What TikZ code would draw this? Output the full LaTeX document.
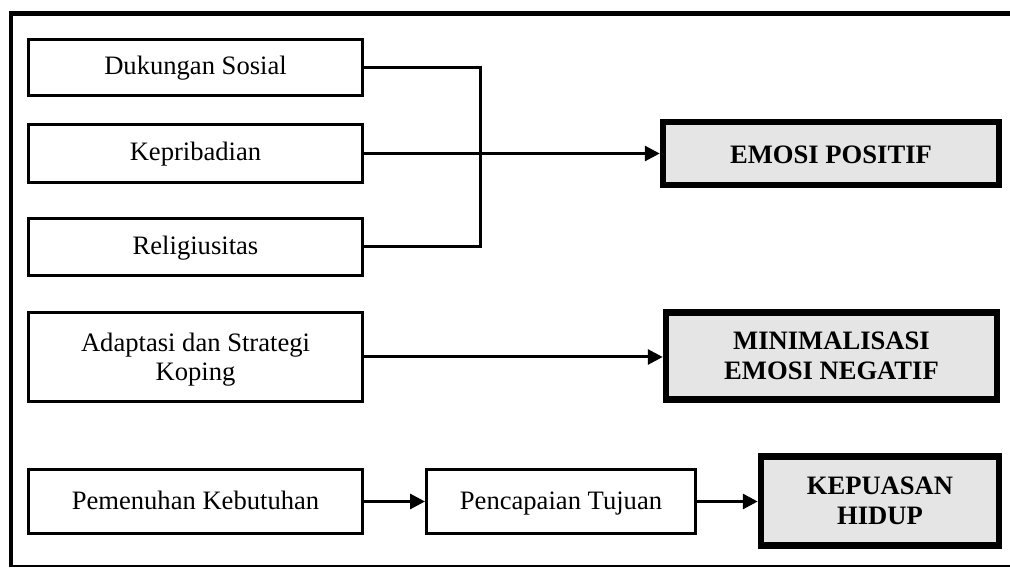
\documentclass[tikz,border=0pt]{standalone}
\usepackage{fontspec}
\setmainfont{Liberation Serif}
\usetikzlibrary{arrows.meta}
\tikzset{
  plainbox/.style={draw=black, line width=3pt, fill=white, inner sep=0pt, align=center,
    font=\fontsize{26.6}{29}\selectfont},
  oneline/.style={text height=20pt, text depth=5pt},
  keybox/.style={draw=black, line width=6.5pt, fill=black!10, inner sep=0pt, align=center,
    font=\fontsize{26.6}{30}\selectfont\bfseries},
  conn/.style={line width=3pt, line join=miter},
  arr/.style={conn, -{Triangle[length=15pt,width=15pt]}}
}
\begin{document}
\begin{tikzpicture}[x=1pt,y=-1pt]
\useasboundingbox (0,0) rectangle (1010,569);
\clip (0,0) rectangle (1010,569);
% outer frame
\draw[line width=5pt] (8.5,14) -- (1015,14);
\draw[line width=4.5pt] (11,12) -- (11,567);
\draw[line width=2.5pt] (9,566) -- (1015,566);
% left boxes
\node[plainbox, oneline, minimum width=334pt, minimum height=56pt] (dk) at (195.5,67.5) {Dukungan Sosial};
\node[plainbox, oneline, minimum width=334pt, minimum height=58pt] (kp) at (195.5,153.5) {Kepribadian};
\node[plainbox, oneline, minimum width=334pt, minimum height=57pt] (rl) at (195.5,247) {Religiusitas};
\node[plainbox, text depth=0pt, minimum width=334pt, minimum height=89pt] (ad) at (195.5,357) {Adaptasi dan Strategi\\Koping};
\node[plainbox, oneline, minimum width=334pt, minimum height=64pt] (pm) at (195.5,501.5) {Pemenuhan Kebutuhan};
\node[plainbox, oneline, minimum width=269pt, minimum height=64pt] (pc) at (561,501.5) {Pencapaian Tujuan};
% key boxes
\node[keybox, text height=21pt, text depth=0pt, minimum width=336pt, minimum height=63pt] (ep) at (831,153.5) {EMOSI POSITIF};
\node[keybox, minimum width=331pt, minimum height=87pt] (mn) at (831.5,356) {MINIMALISASI\\EMOSI NEGATIF};
\node[keybox, minimum width=238pt, minimum height=89pt] (kh) at (880,501) {KEPUASAN\\HIDUP};
% connectors
\coordinate (j) at (480,150);
\draw[conn] (dk.east) -| (j) |- (rl.east);
\draw[arr] (kp.east) -- (kp.east -| ep.west);
\draw[arr] (ad.east) -- (ad.east -| mn.west);
\draw[arr] (pm.east) -- (pc.west);
\draw[arr] (pc.east) -- (pc.east -| kh.west);
\end{tikzpicture}
\end{document}
